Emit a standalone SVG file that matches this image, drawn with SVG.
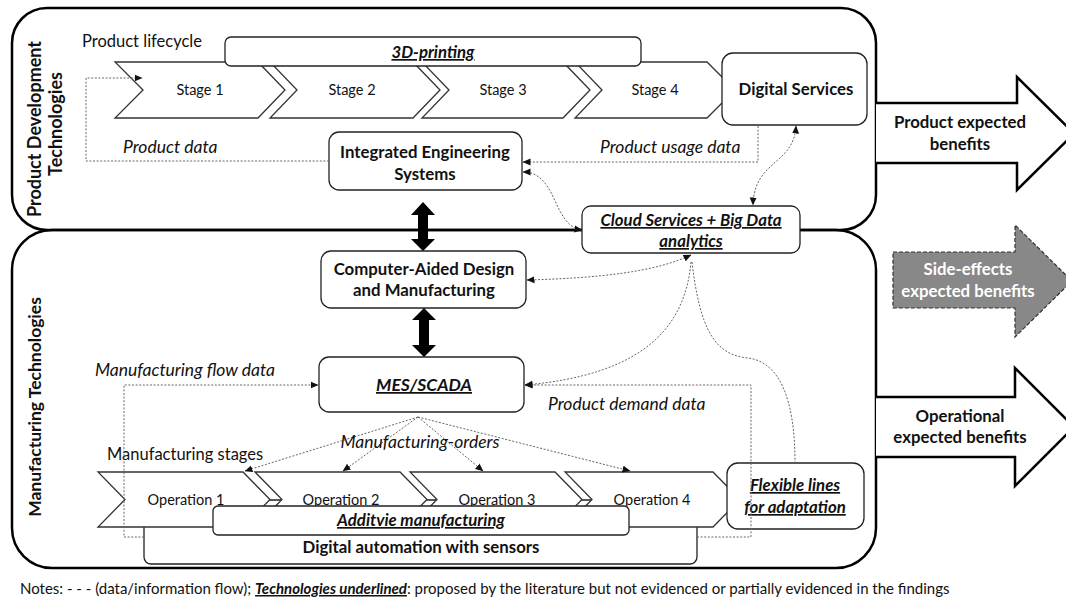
<svg xmlns="http://www.w3.org/2000/svg" width="1066" height="601" viewBox="0 0 1066 601">
<defs>
<style>
text{font-family:Lato,"Open Sans","Liberation Sans",sans-serif;fill:#111}
.panel{fill:none;stroke:#000;stroke-width:2.5}
.box{fill:#fff;stroke:#222;stroke-width:1.3}
.chev{fill:#fff;stroke:#333;stroke-width:1.3}
.big{stroke:#000;stroke-width:2.5;fill:#fff}
.dot{fill:none;stroke:#666;stroke-width:1;stroke-dasharray:2 1.6}
.b{font-weight:700;font-size:16.8px}
.bi{font-weight:700;font-style:italic;font-size:16.8px;text-decoration:underline}
.i{font-style:italic;font-size:17.5px}
.r{font-size:16.5px}
.s{font-size:14.5px}
.m{text-anchor:middle}
.thick{fill:#000}
</style>
<marker id="ah" viewBox="0 0 8 8" refX="7.5" refY="4" markerWidth="8" markerHeight="8" markerUnits="userSpaceOnUse" orient="auto-start-reverse">
<path d="M0,0.5 L8,4 L0,7.5 Z" fill="#111"/>
</marker>
</defs>

<g id="panels">
<rect class="panel" x="12" y="8" width="864" height="222" rx="35"/>
<rect class="panel" x="12" y="230" width="864" height="338" rx="40"/>
<text class="b" transform="translate(41,129) rotate(-90)" text-anchor="middle" style="font-size:18px">Product Development</text>
<text class="b" transform="translate(62,124) rotate(-90)" text-anchor="middle" style="font-size:18px">Technologies</text>
<text class="b" transform="translate(41,407) rotate(-90)" text-anchor="middle" style="font-size:17.5px">Manufacturing Technologies</text>
</g>

<g id="benefit-arrows">
<path class="big" d="M876,103 H1017 V77 L1074,133.5 L1017,190 V163 H876"/>
<path d="M893,252 H1015 V225 L1072,281 L1015,337 V308 H893 Z" fill="#888" stroke="#333" stroke-width="1.2" stroke-dasharray="4 2"/>
<path class="big" d="M876,397 H1015 V368 L1074,427 L1015,486 V457 H876"/>
<text class="b m" x="960" y="128">Product expected</text>
<text class="b m" x="960" y="150">benefits</text>
<text class="b m" x="968" y="275" style="fill:#fff">Side-effects</text>
<text class="b m" x="968" y="297" style="fill:#fff">expected benefits</text>
<text class="b m" x="960" y="422">Operational</text>
<text class="b m" x="960" y="443">expected benefits</text>
</g>

<g id="lifecycle">
<text class="r" x="82" y="47">Product lifecycle</text>
<path class="chev" d="M115,62 L258,62 L285,90 L258,118 L115,118 L143,90 Z"/>
<path class="chev" d="M270,62 L413,62 L440,90 L413,118 L270,118 L297,90 Z"/>
<path class="chev" d="M422,62 L563,62 L590,90 L563,118 L422,118 L449,90 Z"/>
<path class="chev" d="M575,62 L707,62 L735,90 L707,118 L575,118 L602,90 Z"/>
<text class="s m" x="200" y="95">Stage 1</text>
<text class="s m" x="352" y="95">Stage 2</text>
<text class="s m" x="503" y="95">Stage 3</text>
<text class="s m" x="655" y="95">Stage 4</text>
</g>

<g id="printing">
<rect class="box" x="225" y="37" width="416" height="29" rx="6"/>
<text class="bi m" x="433" y="58">3D-printing</text>
</g>

<g id="digital-services">
<rect class="box" x="722" y="53" width="145" height="72" rx="11"/>
<text class="b m" x="796" y="95">Digital Services</text>
</g>

<g id="ies">
<rect class="box" x="329" y="132" width="193" height="58" rx="10"/>
<text class="b m" x="425" y="158">Integrated Engineering</text>
<text class="b m" x="425" y="180">Systems</text>
</g>

<g id="cloud">
<rect class="box" x="582" y="206" width="218" height="47" rx="9"/>
<text class="bi m" x="691" y="226">Cloud Services + Big Data</text>
<text class="bi m" x="691" y="247">analytics</text>
</g>

<g id="cad">
<rect class="box" x="321" y="251" width="205" height="57" rx="10"/>
<text class="b m" x="424" y="275">Computer-Aided Design</text>
<text class="b m" x="424" y="296">and Manufacturing</text>
</g>

<g id="mes">
<rect class="box" x="319" y="357" width="205" height="55" rx="10"/>
<text class="bi m" x="424" y="391" style="font-size:17.5px">MES/SCADA</text>
</g>

<g id="automation">
<rect class="box" x="144" y="500" width="553" height="64" rx="7"/>
<text class="b m" x="421" y="553">Digital automation with sensors</text>
</g>

<g id="operations">
<text class="r" x="107" y="460">Manufacturing stages</text>
<path class="chev" d="M98,472 L243,472 L270,499.5 L243,527 L98,527 L125,499.5 Z"/>
<path class="chev" d="M255,472 L400,472 L427,499.5 L400,527 L255,527 L282,499.5 Z"/>
<path class="chev" d="M410,472 L555,472 L582,499.5 L555,527 L410,527 L437,499.5 Z"/>
<path class="chev" d="M565,472 L713,472 L740,499.5 L713,527 L565,527 L592,499.5 Z"/>
<text class="s m" x="186" y="505">Operation 1</text>
<text class="s m" x="341" y="505">Operation 2</text>
<text class="s m" x="497" y="505">Operation 3</text>
<text class="s m" x="652" y="505">Operation 4</text>
</g>

<g id="additive">
<rect class="box" x="213" y="506" width="416" height="29" rx="5"/>
<text class="bi m" x="421" y="526">Additvie manufacturing</text>
</g>

<g id="flexible">
<rect class="box" x="727" y="463" width="137" height="66" rx="11"/>
<text class="bi m" x="795" y="491">Flexible lines</text>
<text class="bi m" x="795" y="513">for adaptation</text>
</g>

<g id="connectors">
<polygon class="thick" points="423,202 435,215 428,215 428,239 435,239 423,251 411,239 418,239 418,215 411,215"/>
<polygon class="thick" points="424,308 436,320 429,320 429,345 436,345 424,357 412,345 419,345 419,320 412,320"/>
<path class="dot" d="M329,161 H86 V78 H142" marker-end="url(#ah)"/>
<path class="dot" d="M758,126 V162 H523" marker-end="url(#ah)"/>
<path class="dot" d="M523,172 C558,172 552,226 582,230" marker-start="url(#ah)" marker-end="url(#ah)"/>
<path class="dot" d="M796,126 C794,165 754,160 753,205" marker-start="url(#ah)" marker-end="url(#ah)"/>
<path class="dot" d="M527,280 C600,278 655,272 691,255" marker-start="url(#ah)" marker-end="url(#ah)"/>
<path class="dot" d="M691,262 C685,330 640,375 525,385" marker-end="url(#ah)"/>
<path class="dot" d="M692,262 C700,330 715,355 748,358 C780,362 795,400 795,463"/>
<path class="dot" d="M697,537 H751 V385 H525" marker-end="url(#ah)"/>
<path class="dot" d="M144,537 H124 V385 H318" marker-end="url(#ah)"/>
<path class="dot" d="M418,417 L245,471" marker-end="url(#ah)"/>
<path class="dot" d="M418,417 L343,471" marker-end="url(#ah)"/>
<path class="dot" d="M418,417 L483,471" marker-end="url(#ah)"/>
<path class="dot" d="M418,417 L630,471" marker-end="url(#ah)"/>
</g>

<g id="labels">
<text class="i" x="123" y="153">Product data</text>
<text class="i" x="600" y="153">Product usage data</text>
<text class="i" x="95" y="376">Manufacturing flow data</text>
<text class="i" x="548" y="410">Product demand data</text>
<text class="i m" x="420" y="448">Manufacturing-orders</text>
</g>

<text x="20" y="594" style="font-size:15px">Notes: - - - (data/information flow); <tspan style="font-weight:700;font-style:italic;text-decoration:underline">Technologies underlined</tspan>: proposed by the literature but not evidenced or partially evidenced in the findings</text>
</svg>
